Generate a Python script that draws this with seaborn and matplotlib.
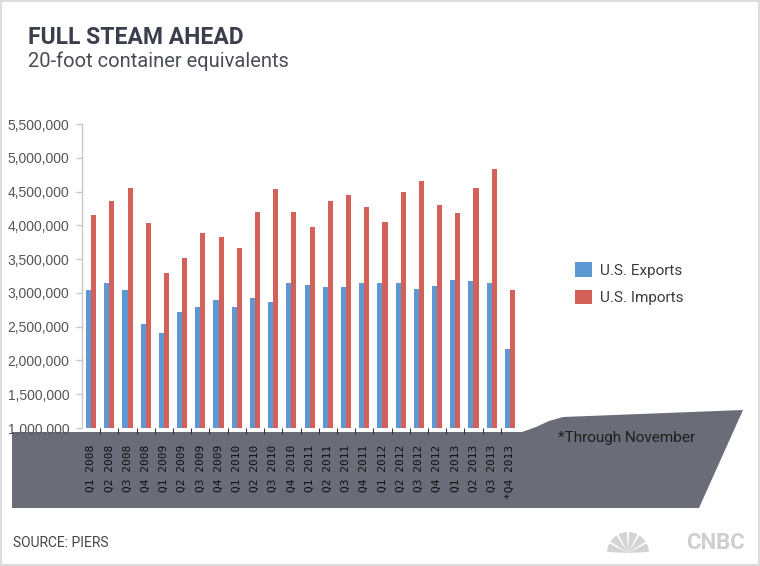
import pandas as pd
import matplotlib.pyplot as plt
import seaborn as sns
from matplotlib.patches import Polygon, Rectangle, Wedge
from matplotlib.ticker import FuncFormatter, FixedLocator

# data (20-foot container equivalents)
quarters = ["Q1 2008", "Q2 2008", "Q3 2008", "Q4 2008",
            "Q1 2009", "Q2 2009", "Q3 2009", "Q4 2009",
            "Q1 2010", "Q2 2010", "Q3 2010", "Q4 2010",
            "Q1 2011", "Q2 2011", "Q3 2011", "Q4 2011",
            "Q1 2012", "Q2 2012", "Q3 2012", "Q4 2012",
            "Q1 2013", "Q2 2013", "Q3 2013", "Q4 2013"]
tick_labels = quarters[:-1] + ["*Q4 2013"]
exports = [3050000, 3150000, 3050000, 2540000,
           2400000, 2710000, 2790000, 2890000,
           2790000, 2920000, 2860000, 3140000,
           3120000, 3090000, 3090000, 3150000,
           3150000, 3150000, 3060000, 3100000,
           3190000, 3170000, 3140000, 2170000]
imports = [4150000, 4360000, 4555000, 4040000,
           3290000, 3520000, 3880000, 3830000,
           3670000, 4200000, 4540000, 4190000,
           3980000, 4360000, 4450000, 4270000,
           4050000, 4490000, 4650000, 4300000,
           4180000, 4550000, 4830000, 3040000]
series = ["U.S. Exports", "U.S. Imports"]
colors = ["#5f97d3", "#d4605a"]

df = pd.DataFrame({
    "quarter": quarters * 2,
    "series": [series[0]] * len(quarters) + [series[1]] * len(quarters),
    "value": exports + imports,
})

sns.set_style("white")
plt.rcParams["font.family"] = ["Roboto", "DejaVu Sans"]

W, H = 760, 566
fig = plt.figure(figsize=(W / 100, H / 100), dpi=100)
fig.patch.set_facecolor("white")
inch = fig.dpi_scale_trans


def P(x, y):
    # pixel position (from top-left) -> inches
    return (x / 100, (H - y) / 100)


# frame and grey "ship" band
fig.patches.append(Rectangle((0, 0), W / 100, H / 100, transform=inch,
                             fill=False, edgecolor="#dcdcdc", linewidth=3,
                             zorder=-2))
ship = [P(12, 432), P(522, 432), P(536, 427), P(549, 421), P(563, 417),
        P(743, 410), P(699, 508), P(12, 508)]
fig.patches.append(Polygon(ship, closed=True, transform=inch,
                           facecolor="#6a6d77", edgecolor="none", zorder=-1))

ax = fig.add_axes([82 / W, 1 - 428 / H, 437 / W, (428 - 124) / H])
sns.barplot(data=df, x="quarter", y="value", hue="series", palette=colors,
            width=0.56, saturation=1, linewidth=0, ax=ax)

ax.set_xlim(-0.5, 23.5)
ax.set_ylim(1000000, 5500000)
ax.set_yticks(range(1000000, 5500001, 500000))
ax.yaxis.set_major_formatter(FuncFormatter(lambda v, p: f"{v:,.0f}"))
ax.set_xlabel("")
ax.set_ylabel("")

for s in ["top", "right", "bottom"]:
    ax.spines[s].set_visible(False)
ax.spines["left"].set_color("#c8c8c8")
ax.spines["left"].set_linewidth(1)

ax.set_xticks(range(len(quarters)))
ax.set_xticklabels(tick_labels, rotation=90, va="top", ha="center",
                   family=["DejaVu Sans Mono"], fontsize=8, color="#111111")
ax.tick_params(axis="x", which="major", length=0, pad=12)
ax.xaxis.set_minor_locator(FixedLocator([i + 0.5 for i in range(len(quarters) - 1)]))
ax.tick_params(axis="x", which="minor", bottom=True, direction="out",
               length=4, width=0.8, color="#333333")
ax.tick_params(axis="y", length=4, width=1, color="#c8c8c8", pad=5,
               labelsize=10, labelcolor="#555555", left=True)
for lab in ax.get_yticklabels():
    lab.set_family(["Liberation Sans Narrow", "Liberation Sans"])
    lab.set_fontsize(10)

handles, labels = ax.get_legend_handles_labels()
ax.legend(handles, labels, loc="upper left", bbox_to_anchor=P(575, 262),
          bbox_transform=inch, frameon=False, fontsize=11,
          handlelength=1.1, handleheight=1.1, labelspacing=0.8,
          handletextpad=0.55, borderpad=0, borderaxespad=0, labelcolor="#3c3c3c")

# titles and notes
fig.text(*P(28, 37), "FULL STEAM AHEAD", transform=inch, fontsize=16.5,
         fontweight="bold", color="#3b3f4c", va="center")
fig.text(*P(28, 61), "20-foot container equivalents", transform=inch,
         fontsize=14.5, color="#4a4d55", va="center")
fig.text(*P(558, 438), "*Through November", transform=inch, fontsize=11,
         color="#1e1e1e", va="center")
fig.text(*P(13, 543), "SOURCE: PIERS", transform=inch, fontsize=10,
         color="#454545", va="center")

# CNBC mark
fig.text(*P(745, 543), "CNBC", transform=inch, fontsize=16, fontweight="bold",
         color="#cfcfcf", ha="right", va="center")
for i in range(6):
    fig.patches.append(Wedge(P(628, 553), 0.21, 180 - (i + 1) * 30 + 3,
                             180 - i * 30 - 3, transform=inch,
                             facecolor="#d4d4d4", edgecolor="none"))

fig.savefig("out.png", dpi=100)
